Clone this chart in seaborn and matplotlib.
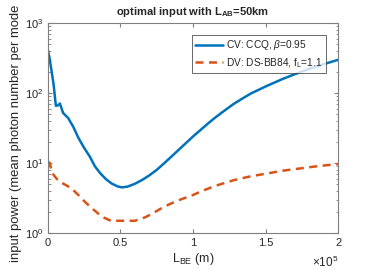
import matplotlib
matplotlib.use("Agg")
import matplotlib.pyplot as plt
import seaborn as sns
import pandas as pd
from matplotlib.ticker import LogLocator, NullFormatter

# CV: CCQ, beta=0.95
cv_L = [0, 1000, 2500, 4000, 5500, 7100, 8300, 10500, 14000, 17500, 21000, 25000,
        29000, 32400, 36000, 40000, 44000, 48000, 51000, 55000, 60000, 65000, 70000,
        75000, 80000, 85000, 90000, 95000, 100000, 105000, 110000, 115000, 120000,
        128000, 135000, 140000, 151000, 162000, 174000, 187000, 200000]
cv_val = [410, 330, 210, 130, 66, 67, 71, 52, 44, 33, 23, 16.5,
          12.3, 9.0, 7.2, 5.9, 5.1, 4.65, 4.5, 4.62, 5.07, 5.75, 6.7,
          8.0, 9.9, 12.3, 15.4, 19.2, 24, 29.5, 36.3, 44.2, 53,
          70, 86, 99, 127, 160, 200, 248, 299]

# DV: DS-BB84, f_L=1.1
dv_L = [0, 1400, 2500, 3700, 6000, 8300, 12000, 16300, 21000, 25500, 30000, 34700,
        39000, 44000, 47000, 60000, 64000, 67000, 72000, 78000, 84000, 92000, 100000,
        105000, 115000, 128000, 140000, 151000, 162000, 174000, 187000, 200000]
dv_val = [10.5, 10, 7.7, 6.9, 6.0, 5.4, 4.9, 4.35, 3.5, 2.8, 2.3, 1.9,
          1.65, 1.48, 1.5, 1.5, 1.6, 1.68, 1.9, 2.25, 2.6, 3.05, 3.5,
          3.9, 4.7, 5.7, 6.5, 7.1, 7.8, 8.4, 9.1, 9.7]

x_ticks = [0, 50000, 100000, 150000, 200000]
x_ticklabels = ["0", "0.5", "1", "1.5", "2"]

sns.set_style("white")
plt.rcParams["font.family"] = ["Liberation Sans", "DejaVu Sans"]
plt.rcParams["mathtext.fontset"] = "custom"
plt.rcParams["mathtext.rm"] = "Liberation Sans"
plt.rcParams["mathtext.it"] = "Liberation Sans:italic"
plt.rcParams["mathtext.bf"] = "Liberation Sans:bold"

gray = "#262626"
fig = plt.figure(figsize=(3.74, 2.72), dpi=100)
ax = fig.add_axes([0.128, 0.143, 0.776, 0.772])

cv = pd.DataFrame({"L": cv_L, "v": cv_val})
dv = pd.DataFrame({"L": dv_L, "v": dv_val})
sns.lineplot(data=cv, x="L", y="v", ax=ax, color="#0072BD", lw=1.8,
             label=r"CV: CCQ, $\beta$=0.95")
sns.lineplot(data=dv, x="L", y="v", ax=ax, color="#D95319", lw=1.8,
             label=r"DV: DS-BB84, f$_\mathregular{L}$=1.1")
ax.lines[1].set_dashes((3.2, 2.2))

ax.set_yscale("log")
ax.set_ylim(1, 1000)
ax.set_xlim(0, 200000)
ax.set_xticks(x_ticks)
ax.set_xticklabels(x_ticklabels)
ax.yaxis.set_minor_locator(LogLocator(base=10, subs=range(2, 10)))
ax.yaxis.set_minor_formatter(NullFormatter())

for s in ax.spines.values():
    s.set_color("#7f7f7f")
    s.set_linewidth(0.8)
ax.tick_params(which="both", direction="in", bottom=True, left=True,
               top=True, right=True, colors="#7f7f7f", labelcolor=gray,
               labelsize=8)
ax.tick_params(which="major", length=3)
ax.tick_params(which="minor", length=1.8)

ax.set_xlabel(r"L$_\mathregular{BE}$ (m)", fontsize=9, color=gray, labelpad=2)
ax.set_ylabel("input power (mean photon number per mode", fontsize=9.4,
              color=gray)
ax.yaxis.set_label_coords(-0.088, 0.474)
ax.set_title(r"optimal input with L$_\mathbf{AB}$=50km", fontsize=8,
             fontweight="bold", pad=6)
fig.text(0.905, 0.02, r"$\times$10$^5$", fontsize=8.5, color=gray, ha="right")

leg = ax.legend(loc="upper right", fontsize=7.3, frameon=True, fancybox=False,
                edgecolor=gray, handlelength=2.7, borderpad=0.35,
                labelspacing=0.35, handletextpad=0.35,
                bbox_to_anchor=(0.975, 0.968))
leg.get_frame().set_linewidth(0.6)

fig.savefig("out.png", dpi=100)
